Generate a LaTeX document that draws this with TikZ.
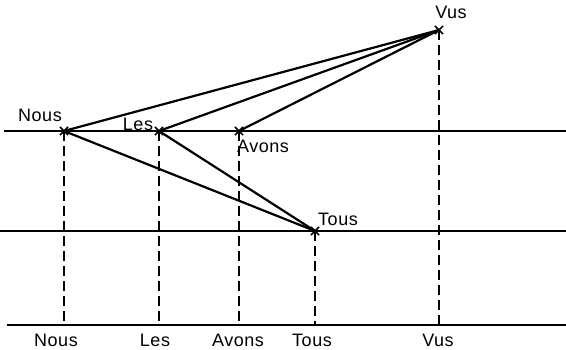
\documentclass[tikz,border=0pt]{standalone}
\usepackage{fontspec}
\newfontfamily\lab[LetterSpace=3]{Liberation Sans}
\usetikzlibrary{shapes.misc}
\begin{document}
\begin{tikzpicture}[x=1pt,y=-1pt,
  pt/.style={cross out,draw,minimum size=6.5pt,inner sep=0pt,line width=1.6pt},
  edge/.style={line width=2.2pt},
  axis/.style={line width=1.5pt},
  proj/.style={line width=1.5pt,dash pattern=on 10pt off 5pt},
  lbl/.style={font=\lab\fontsize{18}{20}\selectfont,inner sep=0pt}]
\useasboundingbox (0,0) rectangle (566,349);
% horizontal lines
\coordinate (m0) at (4,131);
\coordinate (m1) at (566,131);
\coordinate (t0) at (0,231);
\coordinate (t1) at (566,231);
\coordinate (b0) at (7,325);
\coordinate (b1) at (566,325);
\draw[axis] (m0) -- (m1);
\draw[axis] (t0) -- (t1);
\draw[axis] (b0) -- (b1);
% points
\node[pt] (nous) at (64,131) {};
\node[pt] (les) at (159,131) {};
\node[pt] (avons) at (239,131) {};
\node[pt] (tous) at (315,231) {};
\node[pt] (vus) at (439,30) {};
% bottom feet
\coordinate (fnous) at (64,325);
\coordinate (fles) at (159,325);
\coordinate (favons) at (239,325);
\coordinate (ftous) at (315,325);
\coordinate (fvus) at (439,325);
\draw[proj] (nous.center) -- (fnous);
\draw[proj] (les.center) -- (fles);
\draw[proj] (avons.center) -- (favons);
\draw[proj] (tous.center) -- (ftous);
\draw[proj] (vus.center) -- (fvus);
% edges
\draw[edge] (nous.center) -- (vus.center);
\draw[edge] (les.center) -- (vus.center);
\draw[edge] (avons.center) -- (vus.center);
\draw[edge] (nous.center) -- (tous.center);
\draw[edge] (les.center) -- (tous.center);
% labels near points
\node[lbl,anchor=base] (lnous) at (40,121) {Nous};
\node[lbl,anchor=base] (lles) at (138,130) {Les};
\node[lbl,anchor=base] (lavons) at (263,152) {Avons};
\node[lbl,anchor=base] (ltous) at (338,225) {Tous};
\node[lbl,anchor=base] (lvus) at (451,18) {Vus};
% bottom labels
\node[lbl,anchor=base] (bnous) at (56,346) {Nous};
\node[lbl,anchor=base] (bles) at (155,346) {Les};
\node[lbl,anchor=base] (bavons) at (238,346) {Avons};
\node[lbl,anchor=base] (btous) at (312,346) {Tous};
\node[lbl,anchor=base] (bvus) at (438,346) {Vus};
\end{tikzpicture}
\end{document}
